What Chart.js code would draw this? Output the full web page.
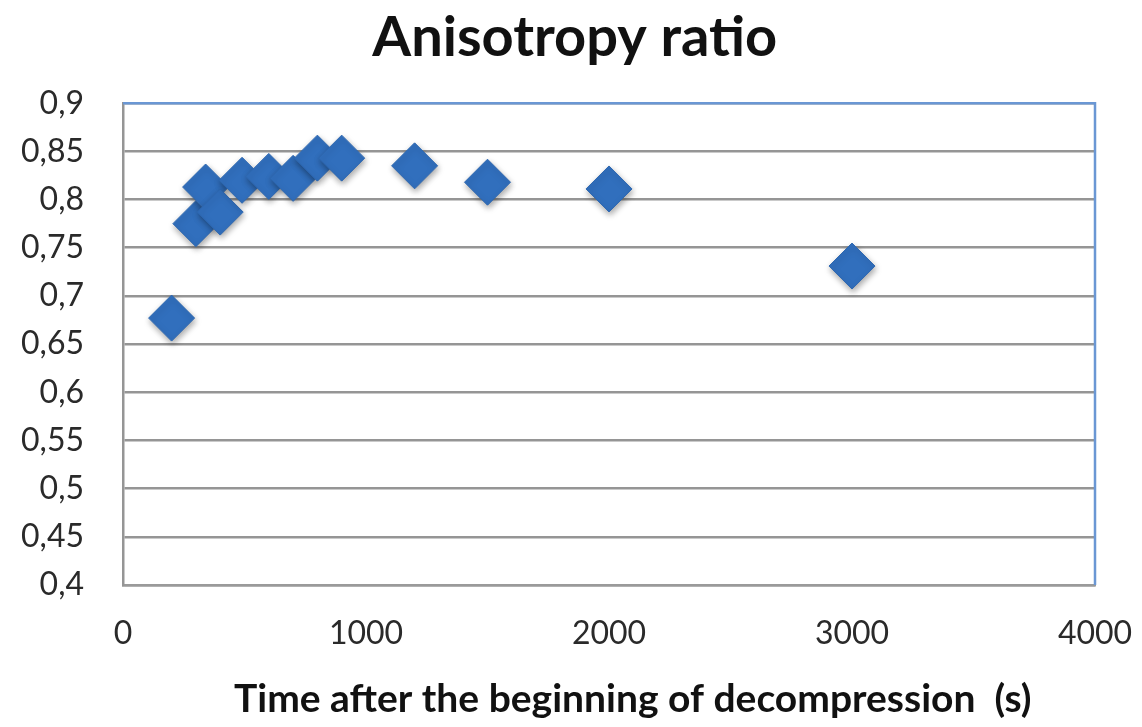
<!DOCTYPE html>
<html>
<head>
<meta charset="utf-8">
<script src="https://cdn.jsdelivr.net/npm/chart.js@4"></script>
<style>
  html, body { margin: 0; padding: 0; background: #ffffff; }
  #wrap { width: 1142px; height: 727px; }
</style>
</head>
<body>
<div id="wrap"><canvas id="chart" width="1142" height="727"></canvas></div>
<script>
// values
const timeSec = [200, 300, 340, 400, 490, 600, 700, 800, 900, 1200, 1500, 2000, 3000];
const anisotropy = [0.677, 0.775, 0.813, 0.787, 0.820, 0.824, 0.822, 0.843, 0.843, 0.835, 0.818, 0.811, 0.731];

const xTicks = [0, 1000, 2000, 3000, 4000];
const yTicks = [0.4, 0.45, 0.5, 0.55, 0.6, 0.65, 0.7, 0.75, 0.8, 0.85, 0.9];

const FONT = 'Lato, "Open Sans", sans-serif';

// comma decimal, like the original
const fmt = (v) => String(parseFloat(v.toFixed(2))).replace('.', ',');

// soft shadow under the markers
const markerShadow = {
  id: 'markerShadow',
  beforeDatasetsDraw(chart) {
    const ctx = chart.ctx;
    ctx.save();
    ctx.shadowColor = 'rgba(0,0,0,0.35)';
    ctx.shadowBlur = 6;
    ctx.shadowOffsetX = 1;
    ctx.shadowOffsetY = 3;
  },
  afterDatasetsDraw(chart) {
    chart.ctx.restore();
  }
};

// blue plot area border on top and right
const plotBorder = {
  id: 'plotBorder',
  afterDraw(chart) {
    const { ctx, chartArea: a } = chart;
    ctx.save();
    ctx.strokeStyle = '#6a97d4';
    ctx.lineWidth = 2.5;
    ctx.beginPath();
    ctx.moveTo(a.left, a.top);
    ctx.lineTo(a.right, a.top);
    ctx.lineTo(a.right, a.bottom);
    ctx.stroke();
    ctx.restore();
  }
};

const data = {
  datasets: [{
    label: 'Anisotropy ratio',
    data: timeSec.map((t, i) => ({ x: t, y: anisotropy[i] })),
    showLine: false,
    pointStyle: 'rectRot',
    pointRadius: 23,
    pointHoverRadius: 23,
    pointBackgroundColor: '#316fbd',
    pointBorderColor: '#2d67b0',
    pointBorderWidth: 1
  }]
};

new Chart(document.getElementById('chart'), {
  type: 'scatter',
  data: data,
  options: {
    responsive: false,
    animation: false,
    layout: { padding: { top: 0, right: 47, bottom: 4, left: 0 } },
    plugins: {
      legend: { display: false },
      tooltip: { enabled: false },
      title: {
        display: true,
        text: '    Anisotropy ratio',
        color: '#111111',
        font: { family: FONT, size: 56, weight: 'bold' },
        padding: { top: 4, bottom: 32 }
      }
    },
    scales: {
      x: {
        type: 'linear',
        min: 0,
        max: 4000,
        afterBuildTicks: (scale) => { scale.ticks = xTicks.map(v => ({ value: v })); },
        afterFit: (scale) => {
          scale.height = 138;
          scale.paddingLeft = 0;
          scale.paddingRight = 0;
        },
        grid: { display: false, drawTicks: false },
        border: { display: true, color: '#9a9a9a', width: 2.5 },
        ticks: {
          padding: 29,
          color: '#2a2a2a',
          maxRotation: 0,
          font: { family: FONT, size: 32 },
          callback: (v) => String(v)
        },
        title: {
          display: true,
          text: '     Time after the beginning of decompression  (s)',
          color: '#111111',
          font: { family: FONT, size: 39, weight: 'bold' },
          padding: { top: 24, bottom: 0 }
        }
      },
      y: {
        type: 'linear',
        min: 0.4,
        max: 0.9,
        afterBuildTicks: (scale) => { scale.ticks = yTicks.map(v => ({ value: v })); },
        afterFit: (scale) => { scale.width = 123; },
        grid: { color: '#959595', lineWidth: 2.5, drawTicks: false },
        border: { display: true, color: '#959595', width: 2.5 },
        ticks: {
          padding: 39,
          color: '#2a2a2a',
          font: { family: FONT, size: 32 },
          callback: (v) => fmt(v)
        }
      }
    }
  },
  plugins: [markerShadow, plotBorder]
});
</script>
</body>
</html>
